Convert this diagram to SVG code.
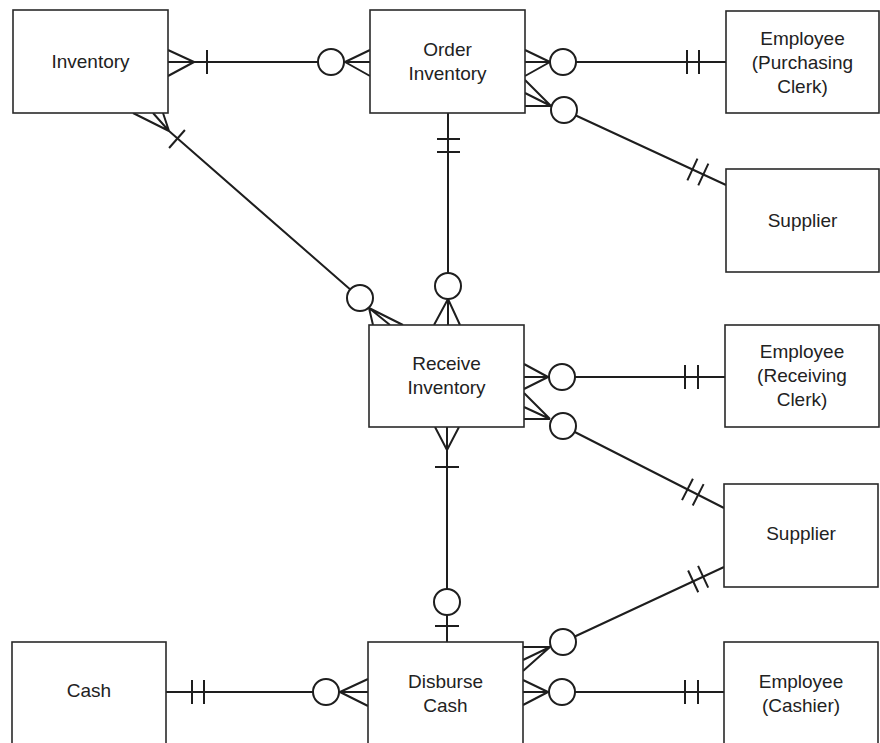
<svg xmlns="http://www.w3.org/2000/svg" width="880" height="743" viewBox="0 0 880 743">
<style>
.box{fill:#fff;stroke:#2a2a2a;stroke-width:1.6}
.lbl{font-family:"Liberation Sans",Arial,sans-serif;font-size:19px;fill:#222;text-anchor:middle}
.ln{stroke:#1e1e1e;stroke-width:2;fill:none;stroke-linecap:butt}
.ring{fill:#fff;stroke:#1e1e1e;stroke-width:2}
</style>
<rect width="880" height="743" fill="#fff"/>
<g id="connectors">
 <!-- Inventory - Order Inventory -->
 <g id="c-inv-order">
  <path class="ln" d="M168,62 H318 M168,50 L194,62 M168,76 L194,62 M207,50 V74 M370,50 L345,62 M370,76 L345,62 M370,62 H344"/>
  <circle class="ring" cx="331" cy="62" r="13"/>
 </g>
 <!-- Order Inventory - Employee (Purchasing Clerk) -->
 <g id="c-order-emp1">
  <path class="ln" d="M525,62 H726 M525,50 L550,62 M525,76 L550,62 M687,50 V74 M699,50 V74"/>
  <circle class="ring" cx="563" cy="62" r="13"/>
 </g>
 <!-- Order Inventory - Supplier -->
 <g id="c-order-sup1">
  <path class="ln" d="M564,110 L726,185 M525,80 L551,106 M525,93 L551,106 M525,106 L551,106"/>
  <g transform="translate(726,185) rotate(24.84)"><path class="ln" d="M-37,-12 V12 M-25,-12 V12"/></g>
  <circle class="ring" cx="564" cy="110" r="13"/>
 </g>
 <!-- Order Inventory - Receive Inventory -->
 <g id="c-order-recv">
  <path class="ln" d="M448,113 V325 M437,139 H460 M437,152 H460 M434,325 L448,299 M460,325 L448,299"/>
  <circle class="ring" cx="448" cy="286" r="13"/>
 </g>
 <!-- Inventory - Receive Inventory -->
 <g id="c-inv-recv">
  <path class="ln" d="M169,131 L360,298 M133,113 L169,131 M153,113 L169,131 M163,113 L169,131 M369,308 L373,325 M369,308 L390,325 M369,308 L403,325"/>
  <g transform="translate(177,139) rotate(41.2)"><path class="ln" d="M0,-12 V12"/></g>
  <circle class="ring" cx="360" cy="298" r="13"/>
 </g>
 <!-- Receive Inventory - Employee (Receiving Clerk) -->
 <g id="c-recv-emp2">
  <path class="ln" d="M524,377 H725 M524,364 L548,377 M524,389 L548,377 M685,365 V389 M698,365 V389"/>
  <circle class="ring" cx="562" cy="377" r="13"/>
 </g>
 <!-- Receive Inventory - Supplier -->
 <g id="c-recv-sup2">
  <path class="ln" d="M563,426 L724,508 M524,393 L550,419 M524,407 L550,419 M524,419 L550,419"/>
  <g transform="translate(724,508) rotate(26.99)"><path class="ln" d="M-41,-12 V12 M-29,-12 V12"/></g>
  <circle class="ring" cx="563" cy="426" r="13"/>
 </g>
 <!-- Receive Inventory - Disburse Cash -->
 <g id="c-recv-disb">
  <path class="ln" d="M447,427 V642 M435,427 L447,450 M459,427 L447,450 M435,467 H459 M435,626 H459"/>
  <circle class="ring" cx="447" cy="602" r="13"/>
 </g>
 <!-- Disburse Cash - Supplier -->
 <g id="c-disb-sup2">
  <path class="ln" d="M563,642 L724,567 M523,647 L550,647 M523,660 L550,647 M523,671 L550,647"/>
  <g transform="translate(724,567) rotate(-24.98)"><path class="ln" d="M-34,-12 V12 M-23,-12 V12"/></g>
  <circle class="ring" cx="563" cy="642" r="13"/>
 </g>
 <!-- Disburse Cash - Employee (Cashier) -->
 <g id="c-disb-emp3">
  <path class="ln" d="M523,692 H724 M523,680 L548,692 M523,705 L548,692 M685,680 V704 M698,680 V704"/>
  <circle class="ring" cx="562" cy="692" r="13"/>
 </g>
 <!-- Cash - Disburse Cash -->
 <g id="c-cash-disb">
  <path class="ln" d="M166,692 H368 M192,680 V704 M204,680 V704 M368,679 L340,692 M368,706 L340,692"/>
  <circle class="ring" cx="326" cy="692" r="13"/>
 </g>
</g>
<g id="inventory"><rect class="box" x="13" y="10" width="155" height="103"/><text class="lbl" x="90.5" y="68">Inventory</text></g>
<g id="order-inventory"><rect class="box" x="370" y="10" width="155" height="103"/><text class="lbl" x="447.5" y="56">Order</text><text class="lbl" x="447.5" y="80">Inventory</text></g>
<g id="employee-purchasing"><rect class="box" x="726" y="11" width="153" height="102"/><text class="lbl" x="802.5" y="45">Employee</text><text class="lbl" x="802.5" y="69">(Purchasing</text><text class="lbl" x="802.5" y="93">Clerk)</text></g>
<g id="supplier-1"><rect class="box" x="726" y="169" width="153" height="103"/><text class="lbl" x="802.5" y="227">Supplier</text></g>
<g id="receive-inventory"><rect class="box" x="369" y="325" width="155" height="102"/><text class="lbl" x="446.5" y="370">Receive</text><text class="lbl" x="446.5" y="394">Inventory</text></g>
<g id="employee-receiving"><rect class="box" x="725" y="325" width="154" height="102"/><text class="lbl" x="802" y="358">Employee</text><text class="lbl" x="802" y="382">(Receiving</text><text class="lbl" x="802" y="406">Clerk)</text></g>
<g id="supplier-2"><rect class="box" x="724" y="484" width="154" height="103"/><text class="lbl" x="801" y="540">Supplier</text></g>
<g id="disburse-cash"><rect class="box" x="368" y="642" width="155" height="120"/><text class="lbl" x="445.5" y="688">Disburse</text><text class="lbl" x="445.5" y="712">Cash</text></g>
<g id="employee-cashier"><rect class="box" x="724" y="642" width="154" height="120"/><text class="lbl" x="801" y="688">Employee</text><text class="lbl" x="801" y="712">(Cashier)</text></g>
<g id="cash"><rect class="box" x="12" y="642" width="154" height="120"/><text class="lbl" x="89" y="697">Cash</text></g>
</svg>
